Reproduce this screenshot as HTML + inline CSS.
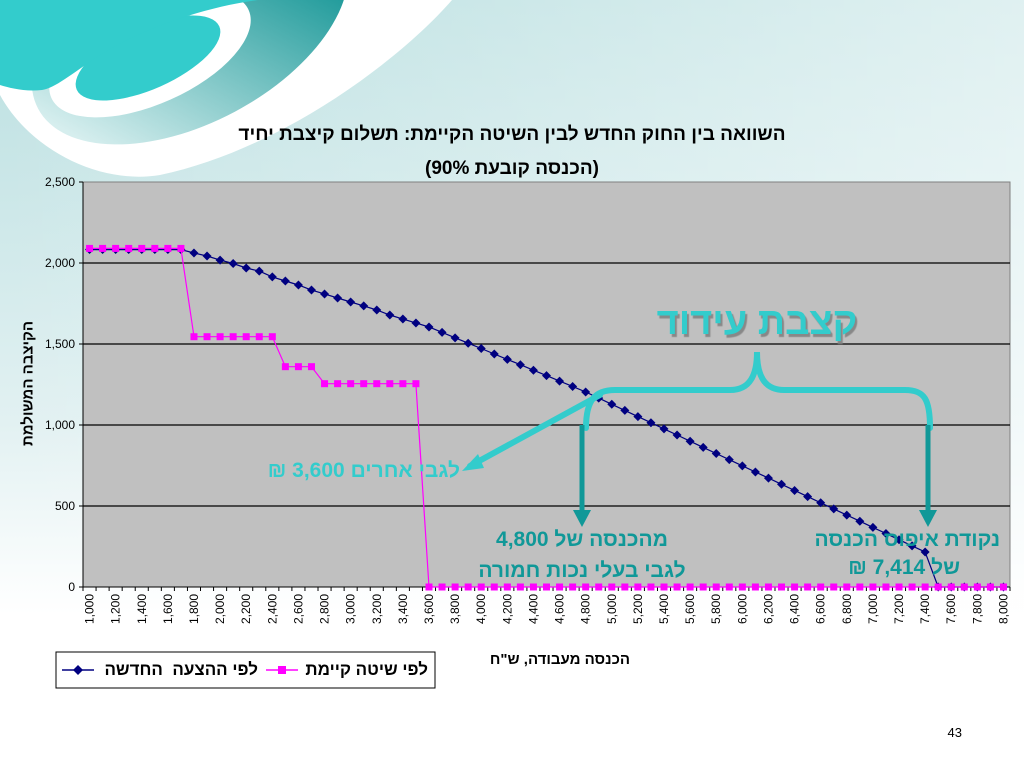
<!DOCTYPE html>
<html><head><meta charset="utf-8">
<style>
html,body{margin:0;padding:0;width:1024px;height:768px;overflow:hidden;background:#fff;position:relative}
svg{display:block;position:absolute;left:0;top:0}
text{font-family:"Liberation Sans",sans-serif}
.t{position:absolute;font-family:"Liberation Sans","Noto Sans CJK SC",sans-serif;font-weight:bold;white-space:nowrap;direction:rtl;line-height:1}
</style></head>
<body>
<svg width="1024" height="768" viewBox="0 0 1024 768">
<defs>
<linearGradient id="bgv" x1="0" y1="0" x2="0" y2="1">
<stop offset="0" stop-color="#b9dfe0"/><stop offset="0.55" stop-color="#e2f1f2"/><stop offset="0.8" stop-color="#ffffff"/></linearGradient>
<linearGradient id="bgh" x1="0" y1="0" x2="1" y2="0">
<stop offset="0" stop-color="#ffffff" stop-opacity="0"/><stop offset="1" stop-color="#ffffff" stop-opacity="0.55"/></linearGradient>
<linearGradient id="sw" gradientUnits="userSpaceOnUse" x1="320" y1="0" x2="90" y2="150">
<stop offset="0" stop-color="#119494"/><stop offset="1" stop-color="#d6eeee"/></linearGradient>
</defs>
<rect x="0" y="0" width="1024" height="768" fill="url(#bgv)"/>
<rect x="0" y="0" width="1024" height="768" fill="url(#bgh)"/>
<g>
<path d="M0,95 C30,150 100,185 160,175 C280,150 400,60 452,0 L0,0 Z" fill="#fff"/>
<ellipse cx="190" cy="28" rx="172" ry="95" transform="rotate(-28 190 28)" fill="url(#sw)"/>
<ellipse cx="150" cy="54" rx="108" ry="50" transform="rotate(-24 150 54)" fill="#fff"/>
<ellipse cx="148" cy="58" rx="78" ry="31" transform="rotate(-24 148 58)" fill="#33cccc"/>
<path d="M0,0 L258,0 C200,8 140,30 100,55 C70,75 55,88 42,90 C25,92 10,88 0,85 Z" fill="#33cccc"/>
</g>
<rect x="83" y="182" width="927" height="405" fill="#c0c0c0" stroke="#808080" stroke-width="1"/>
<g id="grid"></g>
<g id="axes"></g>
<g id="series"></g>
<g>
<rect x="56" y="652" width="379" height="36" fill="#fff" stroke="#000"/>
<line x1="266" y1="670" x2="298" y2="670" stroke="#ff00ff" stroke-width="1.5"/>
<rect x="278" y="666" width="8" height="8" fill="#ff00ff"/>
<line x1="62" y1="670" x2="94" y2="670" stroke="#000080" stroke-width="1.5"/>
<path d="M78,665 L83,670 L78,675 L73,670 Z" fill="#000080"/>
</g>
<g fill="none" stroke="#33cccc" stroke-width="6" stroke-linecap="round">
<path d="M586,428 C586,400 595,390 615,390 L730,390 C750,390 757,375 757,352 C757,375 764,390 784,390 L905,390 C925,390 930,400 930,428"/>
<path d="M600,395 L470,466"/>
</g>
<path d="M462,471 L478,454 L484,468 Z" fill="#33cccc"/>
<g>
<line x1="582" y1="425" x2="582" y2="512" stroke="#109898" stroke-width="5"/>
<path d="M573,510 L591,510 L582,527 Z" fill="#109898"/>
</g>
<g>
<line x1="928" y1="425" x2="928" y2="512" stroke="#109898" stroke-width="5"/>
<path d="M919,510 L937,510 L928,527 Z" fill="#109898"/>
</g>
<text x="962" y="737" text-anchor="end" font-size="13" fill="#000">43</text>
</svg>

<div class="t" dir="rtl" style="left:212px;width:600px;top:125px;font-size:19px;text-align:center">השוואה בין החוק החדש לבין השיטה הקיימת: תשלום קיצבת יחיד</div>
<div class="t" dir="rtl" style="left:312px;width:400px;top:159px;font-size:19px;text-align:center">(הכנסה קובעת 90%)</div>
<div class="t" dir="rtl" style="left:-52px;top:376px;width:160px;font-size:15px;text-align:center;transform:rotate(-90deg)">הקיצבה המשולמת</div>
<div class="t" dir="rtl" style="left:460px;width:200px;top:652px;font-size:15px;text-align:center">הכנסה מעבודה, ש"ח</div>
<div class="t" dir="rtl" style="left:300px;width:128px;top:661px;font-size:17px;text-align:right">לפי שיטה קיימת</div>
<div class="t" dir="rtl" style="left:96px;width:162px;top:661px;font-size:17px;text-align:right">לפי ההצעה&nbsp; החדשה</div>
<div class="t" dir="rtl" style="left:557px;width:400px;top:303px;font-size:38px;text-align:center;color:#33cccc;text-shadow:2px 3px 1px #888">קצבת עידוד</div>
<div class="t" dir="rtl" style="left:200px;width:260px;top:460px;font-size:21px;text-align:right;color:#33cccc">לגבי אחרים 3,600 ₪</div>
<div class="t" dir="rtl" style="left:432px;width:300px;top:529px;font-size:21px;text-align:center;color:#109898">מהכנסה של 4,800</div>
<div class="t" dir="rtl" style="left:432px;width:300px;top:560px;font-size:21px;text-align:center;color:#109898">לגבי בעלי נכות חמורה</div>
<div class="t" dir="rtl" style="left:700px;width:300px;top:529px;font-size:21px;text-align:right;color:#109898">נקודת איפוס הכנסה</div>
<div class="t" dir="rtl" style="left:700px;width:260px;top:557px;font-size:21px;text-align:right;color:#109898">של 7,414 ₪</div>

<script>
const categories = [];
for (let v = 1000; v <= 8000; v += 100) categories.push(v);
const newProposal = [2083,2083,2083,2083,2083,2083,2083,2083,2062,2043,2018,1997,1969,1950,1914,1889,1864,1833,1809,1784,1759,1735,1710,1679,1654,1630,1605,1572,1538,1505,1472,1438,1405,1372,1338,1305,1271,1238,1204,1166,1128,1090,1052,1014,976,938,900,862,824,786,748,710,672,634,596,558,520,482,444,406,368,330,292,254,216,0,0,0,0,0,0];
const currentSystem = [2090,2090,2090,2090,2090,2090,2090,2090,1545,1545,1545,1545,1545,1545,1545,1360,1360,1360,1255,1255,1255,1255,1255,1255,1255,1255,0,0,0,0,0,0,0,0,0,0,0,0,0,0,0,0,0,0,0,0,0,0,0,0,0,0,0,0,0,0,0,0,0,0,0,0,0,0,0,0,0,0,0,0,0];
const yTicks = [0,500,1000,1500,2000,2500];
const yTickLabels = ["0","500","1,000","1,500","2,000","2,500"];

const NS = "http://www.w3.org/2000/svg";
const L = 83, R = 1010, T = 182, B = 587, YMAX = 2500;
const n = categories.length;
const xs = i => L + (i + 0.5) * (R - L) / n;
const ys = v => B - v / YMAX * (B - T);
function mk(tag, attrs, parent) { const e = document.createElementNS(NS, tag); for (const k in attrs) e.setAttribute(k, attrs[k]); parent.appendChild(e); return e; }
const grid = document.getElementById('grid'), axes = document.getElementById('axes'), ser = document.getElementById('series');
yTicks.forEach((t, i) => {
  if (t > 0 && t < YMAX) {
    const g = mk('line', {x1: L, x2: R, y1: ys(t), y2: ys(t), stroke: '#000', 'stroke-width': 1.2}, grid);
    
    
  }
  mk('line', {x1: L - 4, x2: L, y1: ys(t), y2: ys(t), stroke: '#000'}, axes);
  const tx = mk('text', {x: L - 8, y: ys(t) + 4, 'text-anchor': 'end', 'font-size': 12}, axes);
  tx.textContent = yTickLabels[i];
  
  
});
mk('line', {x1: L, x2: L, y1: T, y2: B, stroke: '#000'}, axes);
mk('line', {x1: L, x2: R, y1: B, y2: B, stroke: '#000'}, axes);
for (let i = 0; i <= n; i++) mk('line', {x1: L + i * (R - L) / n, x2: L + i * (R - L) / n, y1: B, y2: B + 4, stroke: '#000'}, axes);
categories.forEach((c, i) => {
  if (c % 200 !== 0) return;
  const x = xs(i);
  const tx = mk('text', {x: 0, y: 0, 'text-anchor': 'end', 'font-size': 12, transform: `translate(${x + 4},${B + 7}) rotate(-90)`}, axes);
  tx.textContent = c.toLocaleString('en-US');
  
  
});
function drawLine(vals, color, name, marker) {
  const pts = vals.map((v, i) => xs(i).toFixed(1) + ',' + ys(v).toFixed(1)).join(' ');
  const pl = mk('polyline', {points: pts, fill: 'none', stroke: color, 'stroke-width': 1.2}, ser);
  
  
  vals.forEach((v, i) => {
    const x = xs(i), y = ys(v);
    let m;
    if (marker === 'diamond') m = mk('path', {d: `M${x},${y - 4.5}L${x + 4.5},${y}L${x},${y + 4.5}L${x - 4.5},${y}Z`, fill: color}, ser);
    else m = mk('rect', {x: x - 3.5, y: y - 3.5, width: 7, height: 7, fill: color}, ser);
    
    
  });
}
drawLine(newProposal, '#000080', 'new-proposal', 'diamond');
drawLine(currentSystem, '#ff00ff', 'current-system', 'square');
</script>
</body></html>
